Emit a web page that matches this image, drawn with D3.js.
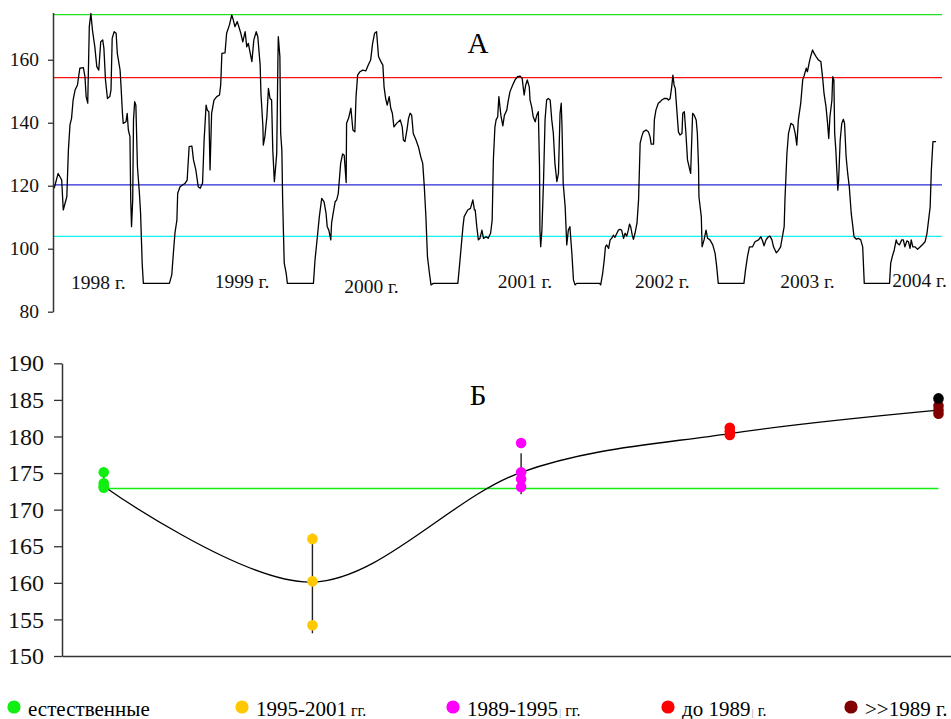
<!DOCTYPE html>
<html>
<head>
<meta charset="utf-8">
<script src="https://cdn.jsdelivr.net/npm/d3@7"></script>
<style>
  html, body { margin: 0; padding: 0; background: #fff; }
  svg { display: block; }
  svg text { font-family: "Liberation Serif", "Times New Roman", Times, "DejaVu Serif", serif !important; }
</style>
</head>
<body>
<svg id="chart" width="951" height="719"></svg>
<script>
// ---- Panel A: level series (day since 1 Jan 1998, level) ----
const day = [3,13,22,26,35,39,43,47,51,56,62,68,77,81,84,88,92,96,100,106,111,116,121,126,129,133,138,144,147,150,155,160,163,170,172,176,178,185,188,191,195,197,199,202,204,207,210,214,219,222,226,229,295,301,305,309,314,316,322,335,340,345,352,356,362,368,373,379,383,388,391,395,398,402,408,415,422,425,428,436,440,447,453,457,461,467,476,481,487,491,495,504,509,515,519,525,527,532,533,537,542,546,550,554,557,561,565,567,570,571,575,577,580,582,586,591,594,660,664,670,675,681,687,692,695,699,704,706,710,715,719,723,729,734,738,743,744,749,755,760,765,768,772,778,785,793,799,805,810,815,820,825,831,836,839,843,847,852,856,860,864,871,880,885,888,892,897,901,905,909,913,920,926,932,937,941,945,949,954,958,964,1026,1030,1039,1042,1051,1058,1064,1068,1070,1074,1078,1082,1087,1091,1098,1103,1109,1113,1116,1120,1123,1127,1130,1135,1140,1144,1150,1154,1158,1165,1171,1177,1184,1189,1194,1198,1202,1207,1209,1213,1217,1222,1226,1230,1233,1234,1236,1239,1243,1247,1251,1255,1260,1264,1268,1272,1277,1281,1285,1288,1290,1293,1298,1302,1306,1310,1315,1319,1323,1327,1385,1388,1393,1397,1400,1403,1408,1412,1416,1420,1424,1429,1433,1437,1441,1446,1450,1454,1458,1461,1464,1468,1471,1475,1480,1484,1488,1492,1496,1503,1509,1513,1516,1522,1524,1528,1534,1539,1543,1549,1556,1560,1564,1568,1571,1574,1577,1581,1585,1589,1594,1596,1600,1604,1608,1613,1616,1621,1625,1630,1633,1636,1637,1643,1645,1650,1655,1659,1665,1672,1678,1682,1686,1751,1755,1760,1765,1773,1779,1788,1794,1799,1802,1807,1813,1817,1822,1826,1833,1838,1844,1850,1853,1855,1860,1864,1870,1876,1881,1885,1889,1895,1900,1904,1909,1912,1917,1920,1925,1929,1934,1940,1946,1951,1954,1959,1963,1966,1969,1974,1976,1979,1981,1984,1986,1989,1991,1995,1999,2003,2006,2010,2014,2018,2023,2026,2030,2036,2041,2047,2052,2056,2120,2123,2127,2132,2137,2140,2145,2151,2155,2159,2164,2168,2172,2175,2179,2185,2191,2198,2205,2210,2215,2219,2223,2226,2230,2238];
const level = [119.2,123.9,121.8,112.3,116.5,131.3,139.3,141.4,147.2,150.4,152,157.3,157.5,154.6,148.3,146.2,170.5,174.7,169.4,164.1,157.8,156.7,165.7,166.3,163.6,153.6,147.7,148.3,150.4,166.8,168.9,168.4,162,156.7,152.5,143,139.8,140.3,143,137.7,135.6,115.5,107,115.5,140.9,146.7,145.6,126,117.6,111.2,95.4,89,89,91.7,98.5,104.9,109.1,117.6,119.7,120.8,121.8,132.4,132.6,128.2,125,119.7,119.2,120.8,134.5,145.6,144,143.5,125,143,147.2,148.3,148.8,152,162,162.2,168.4,171,174.2,172.6,170.5,172.1,168.4,165.7,168.9,164.1,165.2,159.4,166.3,168.9,167.3,158.3,149.3,138.7,132.9,135.6,141.9,150.9,147.7,147.2,131.3,121.3,127.1,130.3,159.9,167.3,161,136.6,131.3,115.5,95.4,92.2,89,89,96.4,103.8,110.2,116,114.9,111.2,107,105.9,102.8,108.1,111.2,114.9,115.5,117.6,127.1,130.1,129.7,121,139.8,141.4,144.6,137.7,137.1,148.3,155.1,156.2,156.7,156.5,158.3,159.9,165.2,168.4,168.9,161,159.4,158.3,151.4,147.7,145.6,148.3,144.6,143,138.7,139.8,140.9,138.7,134.5,134,137.7,141.4,143,142.4,136.6,134.5,132.4,129.2,127.1,119.7,110.2,97.5,92.2,88.5,89,89,94.3,107,110.2,112.3,112.8,115.5,112.3,112.3,107,102.8,103.3,105.9,103.3,103.8,103.3,104.9,109.1,128.2,138.7,140.9,141.9,148.3,142.4,139,142.4,144,147.2,149.8,152,153.6,154.6,154.8,154.1,148.8,152,153.6,151.4,147.2,145.1,141.9,140.3,142.4,143.5,126,105.9,100.6,105.9,120.8,140.9,147.2,147.7,147.2,140.9,136.6,127.1,121.3,123.9,143,146.2,138.7,120.8,113.3,101.2,105.9,107,98.5,90.1,88.5,89,89,88.5,92.2,96.4,100.6,101.2,100.1,102.8,103.3,104.3,103.6,104.9,105.9,106.2,105.9,103.3,104.9,104,105.9,107.8,107,104.3,103,104.9,108.1,115.5,133.5,135.6,137.1,137.7,137.1,135.6,133.2,133.2,140.9,144,146.2,146.7,147.2,147.7,147.7,147.2,147.7,151.4,155.1,152,150.9,144,137.1,136.1,136.6,143,143.5,136.6,128.2,125.5,123.9,143,142.4,140.9,136.6,126,116.5,110.2,100.6,102.8,105.9,103.3,102.8,101.2,98.5,94.3,89,89,93.2,97.5,100.6,100.6,102.2,102.8,103.8,102.2,100.9,102.8,103.8,104,102.8,100.6,98.7,99.4,100.6,104.9,107,115.5,130.3,136.6,139.8,139.3,136.6,132.9,140.9,146.2,153.6,155.1,157.3,156.2,159.4,161,163.1,162,161,159.9,159.4,153.6,149.3,145.1,139.8,135,141.9,147.2,154.6,153.6,136.6,131.3,126,118.6,121.8,134.5,139.8,141.1,139.8,129.2,123.9,119.7,111.2,108.1,103.8,103,103.3,102.8,100.6,89,89,95.4,97.5,99.6,102.8,101.7,101.2,102.8,102.8,100.6,102.5,102.2,100.1,102.8,100.6,100.6,99.8,100.6,101.5,102.2,104.9,109.1,113.3,125,134,134];

// Reference levels drawn across panel A
const refLevels = [174.3, 154.3, 120.3, 103.9];
const refColors = ["#22e022", "#ff1010", "#2a2ad8", "#10f0f0"];

// Year captions placed inside panel A (day, level)
const yearNames = ["1998 г.", "1999 г.", "2000 г.", "2001 г.", "2002 г.", "2003 г.", "2004 г."];
const yearDay = [115, 479, 807, 1196, 1544, 1912, 2196];
const yearLevel = [87.1, 87.4, 85.8, 87.4, 87.4, 87.4, 87.9];
const ticksA = [80, 100, 120, 140, 160];

// ---- Panel B: groups ----
const groupColors = ["#11ee11", "#ffc800", "#ff00ff", "#ff0000", "#800000"];
const groupValues = [
  [175.1, 173.6, 173.2, 173.0],
  [166.0, 160.2, 154.2],
  [179.1, 175.1, 174.2, 173.1],
  [181.2, 180.7, 180.2],
  [184.2, 183.6, 183.1]
];
const extraValue = 185.2;      // single black point in the last group
const extraGroup = 4;
const groupMeans = [173.2, 160.1, 175.1, 180.4, 183.6];
const barLow = [173.0, 153.1, 172.1];
const barHigh = [174.6, 166.7, 177.7];
const naturalLevel = 172.9;
const ticksB = [150, 155, 160, 165, 170, 175, 180, 185, 190];

// Legend entries
const legendMain = ["естественные", "1995-2001", "1989-1995", "до 1989", ">>1989 г."];
const legendMark = ["", "", "|", "|", ""];
const legendSuffix = ["", " гг.", " гг.", " г.", ""];

const SERIF = "'Liberation Serif', 'Times New Roman', Times, 'DejaVu Serif', serif";
const svg = d3.select("#chart");

// ---------------- Panel A ----------------
const xA = d3.scaleLinear().domain([0, 2253]).range([53, 942]);
const yA = d3.scaleLinear().domain([80, 175]).range([311.7, 12.5]);

const gA = svg.append("g");

gA.selectAll("line.ref")
  .data(refLevels)
  .join("line")
  .attr("class", "ref")
  .attr("x1", xA(0)).attr("x2", xA(2253))
  .attr("y1", d => yA(d)).attr("y2", d => yA(d))
  .attr("stroke", (d, i) => refColors[i])
  .attr("stroke-width", 1.3);

const series = day.map((d, i) => ({ d, v: level[i] }));
gA.append("path")
  .datum(series)
  .attr("fill", "none")
  .attr("stroke", "#000")
  .attr("stroke-width", 1.3)
  .attr("stroke-linejoin", "round")
  .attr("d", d3.line().x(p => xA(p.d)).y(p => yA(p.v)));

const axisA = gA.append("g")
  .attr("transform", `translate(${xA(0)},0)`)
  .call(d3.axisLeft(yA).tickValues(ticksA).tickSize(5).tickSizeOuter(0).tickPadding(9));
axisA.attr("font-family", null).attr("font-size", null);
axisA.select(".domain").attr("stroke", "#333").attr("stroke-width", 1.5);
axisA.selectAll(".tick line").attr("stroke", "#333").attr("stroke-width", 1.3);
axisA.selectAll(".tick text")
  .style("font-family", SERIF)
  .style("font-size", "19.5px")
  .attr("fill", "#111");

gA.selectAll("text.year")
  .data(yearNames)
  .join("text")
  .attr("class", "year")
  .attr("x", (d, i) => xA(yearDay[i]))
  .attr("y", (d, i) => yA(yearLevel[i]))
  .attr("text-anchor", "middle")
  .style("font-family", SERIF)
  .style("font-size", "19.5px")
  .attr("fill", "#111")
  .text(d => d);

gA.append("text")
  .attr("x", 478).attr("y", 53)
  .attr("text-anchor", "middle")
  .style("font-family", SERIF)
  .style("font-size", "29px")
  .attr("fill", "#000")
  .text("А");

// ---------------- Panel B ----------------
const xB = d3.scaleLinear().domain([-0.2, 4.06]).range([62, 951]);
const yB = d3.scaleLinear().domain([150, 190]).range([656, 363.3]);

const gB = svg.append("g");

gB.append("line")
  .attr("x1", xB(0)).attr("x2", xB(4))
  .attr("y1", yB(naturalLevel)).attr("y2", yB(naturalLevel))
  .attr("stroke", "#11ee11")
  .attr("stroke-width", 1.5);

gB.selectAll("line.err")
  .data(barLow)
  .join("line")
  .attr("class", "err")
  .attr("x1", (d, i) => xB(i)).attr("x2", (d, i) => xB(i))
  .attr("y1", d => yB(d))
  .attr("y2", (d, i) => yB(barHigh[i]))
  .attr("stroke", "#222")
  .attr("stroke-width", 1.4);

gB.append("path")
  .datum(groupMeans)
  .attr("fill", "none")
  .attr("stroke", "#000")
  .attr("stroke-width", 1.3)
  .attr("d", d3.line().x((d, i) => xB(i)).y(d => yB(d)).curve(d3.curveCardinal.tension(0)));

groupValues.forEach((vals, gi) => {
  gB.selectAll(null)
    .data(vals)
    .join("circle")
    .attr("cx", xB(gi))
    .attr("cy", d => yB(d))
    .attr("r", 5.3)
    .attr("fill", groupColors[gi]);
});
gB.append("circle")
  .attr("cx", xB(extraGroup))
  .attr("cy", yB(extraValue))
  .attr("r", 5.3)
  .attr("fill", "#000");

const axisBy = gB.append("g")
  .attr("transform", `translate(${xB(-0.2)},0)`)
  .call(d3.axisLeft(yB).tickValues(ticksB).tickSize(8).tickSizeOuter(0).tickPadding(10));
const axisBx = gB.append("g")
  .attr("transform", `translate(0,${yB(150)})`)
  .call(d3.axisBottom(xB).tickValues([]).tickSizeOuter(0));
[axisBy, axisBx].forEach(a => {
  a.attr("font-family", null).attr("font-size", null);
  a.select(".domain").attr("stroke", "#333").attr("stroke-width", 1.5);
  a.selectAll(".tick line").attr("stroke", "#333").attr("stroke-width", 1.3);
});
axisBy.selectAll(".tick text")
  .style("font-family", SERIF)
  .style("font-size", "24px")
  .attr("fill", "#111");

gB.append("text")
  .attr("x", 478).attr("y", 405)
  .attr("text-anchor", "middle")
  .style("font-family", SERIF)
  .style("font-size", "29px")
  .attr("fill", "#000")
  .text("Б");

// ---------------- Legend ----------------
const legendX = [14, 242, 453, 668, 851];
const lg = svg.append("g");
legendX.forEach((lx, i) => {
  lg.append("circle")
    .attr("cx", lx).attr("cy", 707).attr("r", 6.6)
    .attr("fill", groupColors[i]);
  const t = lg.append("text")
    .attr("x", lx + 14).attr("y", 715.5)
    .style("font-family", SERIF)
    .style("font-size", "21px")
    .attr("fill", "#000");
  t.append("tspan").text(legendMain[i]);
  if (legendMark[i]) {
    t.append("tspan").style("font-size", "11px").attr("fill", "#999").attr("dx", 1).text(legendMark[i]);
  }
  if (legendSuffix[i]) {
    t.append("tspan").style("font-size", "16px").text(legendSuffix[i]);
  }
});
</script>
</body>
</html>
